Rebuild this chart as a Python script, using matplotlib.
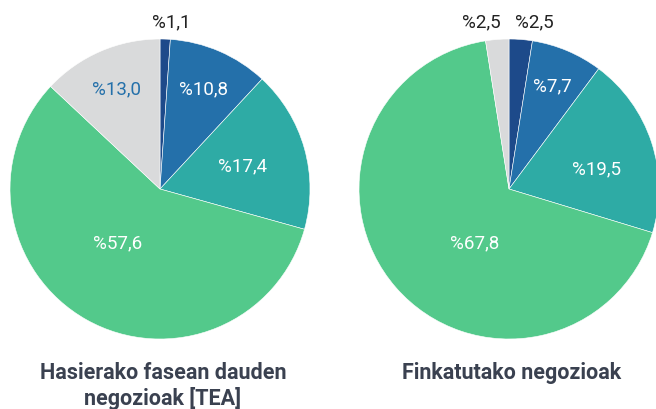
import matplotlib
matplotlib.use("Agg")
import matplotlib.pyplot as plt
import numpy as np

plt.rcParams['font.family'] = ['Roboto', 'DejaVu Sans']

colors = ['#1d4a8a', '#2470aa', '#2eaba5', '#53c98b', '#d9dadb']

left_values = [1.1, 10.8, 17.4, 57.6, 13.0]
left_labels = ['%1,1', '%10,8', '%17,4', '%57,6', '%13,0']
left_title = 'Hasierako fasean dauden\nnegozioak [TEA]'

right_values = [2.5, 7.7, 19.5, 67.8, 2.5]
right_labels = ['%2,5', '%7,7', '%19,5', '%67,8', '%2,5']
right_title = 'Finkatutako negozioak'

# label placement (radius as fraction, angle offset deg) and colours
left_pos = [(1.12, -2), (0.73, 0), (0.57, 0), (0.45, -9), (0.73, 0)]
left_tc = ['#222222', 'white', 'white', 'white', '#2470aa']
right_pos = [(1.13, -4), (0.75, 0), (0.6, -5), (0.42, 16), (1.13, 5)]
right_tc = ['#222222', 'white', 'white', 'white', '#222222']

fig = plt.figure(figsize=(6.56, 4.10), dpi=100)


def draw(rect, values, labels, pos, tcols, title, ty):
    ax = fig.add_axes(rect)
    wedges, _ = ax.pie(values, colors=colors, startangle=90, counterclock=False,
                       wedgeprops=dict(linewidth=0.4, edgecolor='white'))
    for w, lab, (r, off), c in zip(wedges, labels, pos, tcols):
        w.set_clip_on(False)
        ang = np.deg2rad((w.theta1 + w.theta2) / 2 + off)
        ax.text(r * np.cos(ang), r * np.sin(ang), lab, ha='center', va='center',
                color=c, fontsize=13.5)
    ax.set_xlim(-1, 1)
    ax.set_ylim(-1, 1)
    ax.set_aspect('equal')
    ax.axis('off')
    cx = rect[0] + rect[2] / 2
    fig.text(cx + 3 / 656, ty, title, ha='center', va='top', fontsize=15.5,
             fontweight='bold', color='#3a4150', linespacing=1.18)


draw([10 / 656, 70 / 410, 300 / 656, 300 / 410], left_values, left_labels,
     left_pos, left_tc, left_title, 1 - 362 / 410)
draw([359 / 656, 70 / 410, 300 / 656, 300 / 410], right_values, right_labels,
     right_pos, right_tc, right_title, 1 - 362 / 410)

fig.savefig('out.png', dpi=100)
